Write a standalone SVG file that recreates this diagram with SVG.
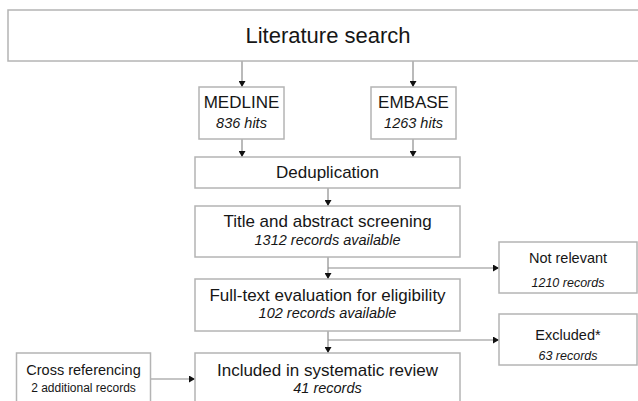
<svg xmlns="http://www.w3.org/2000/svg" width="638" height="401" viewBox="0 0 638 401">
<defs>
<marker id="ah" markerWidth="7" markerHeight="7" refX="6" refY="3.5" orient="auto" markerUnits="userSpaceOnUse">
<path d="M0,0 L6,3.5 L0,7 Z" fill="#111"/>
</marker>
<style>
.box{fill:#fff;stroke:#b4b4b4;stroke-width:1.5}
.t{font-family:"Liberation Sans",Arial,sans-serif;fill:#161616;text-anchor:middle}
.m{font-size:17px}
.s{font-size:14.5px;font-style:italic}
.h{font-size:14.5px}
.xs{font-size:12.5px;font-style:italic}
.c{fill:none;stroke:#8c8c8c;stroke-width:1.2}
</style>
</defs>
<rect width="638" height="401" fill="#fff"/>
<g id="connectors">
<line class="c" x1="242" y1="61" x2="242" y2="87" marker-end="url(#ah)"/>
<line class="c" x1="413" y1="61" x2="413" y2="87" marker-end="url(#ah)"/>
<line class="c" x1="242" y1="139" x2="242" y2="157" marker-end="url(#ah)"/>
<line class="c" x1="413" y1="139" x2="413" y2="157" marker-end="url(#ah)"/>
<line class="c" x1="328" y1="188" x2="328" y2="206" marker-end="url(#ah)"/>
<line class="c" x1="328" y1="257" x2="328" y2="279" marker-end="url(#ah)"/>
<line class="c" x1="328" y1="268" x2="499" y2="268" marker-end="url(#ah)"/>
<line class="c" x1="328" y1="331" x2="328" y2="353" marker-end="url(#ah)"/>
<line class="c" x1="328" y1="340" x2="499" y2="340" marker-end="url(#ah)"/>
<line class="c" x1="150.5" y1="379" x2="195" y2="379" marker-end="url(#ah)"/>
</g>
<g id="literature-search">
<rect class="box" x="8" y="10" width="642" height="51"/>
<text class="t" x="328" y="43" font-size="22">Literature search</text>
</g>
<g id="medline">
<rect class="box" x="199" y="87" width="85" height="52"/>
<text class="t m" x="241.5" y="108">MEDLINE</text>
<text class="t s" x="241.5" y="128">836 hits</text>
</g>
<g id="embase">
<rect class="box" x="371" y="87" width="85" height="52"/>
<text class="t m" x="413.5" y="108">EMBASE</text>
<text class="t s" x="413.5" y="128">1263 hits</text>
</g>
<g id="deduplication">
<rect class="box" x="195" y="157" width="265" height="31"/>
<text class="t m" x="327.5" y="178">Deduplication</text>
</g>
<g id="screening">
<rect class="box" x="195" y="206" width="265" height="51"/>
<text class="t m" x="327.5" y="227">Title and abstract screening</text>
<text class="t s" x="327.5" y="245">1312 records available</text>
</g>
<g id="not-relevant">
<rect class="box" x="499" y="242" width="138" height="51"/>
<text class="t h" x="568" y="263">Not relevant</text>
<text class="t xs" x="568" y="287">1210 records</text>
</g>
<g id="full-text">
<rect class="box" x="195" y="279" width="265" height="52"/>
<text class="t m" x="327.5" y="301">Full-text evaluation for eligibility</text>
<text class="t s" x="327.5" y="318">102 records available</text>
</g>
<g id="excluded">
<rect class="box" x="499" y="314" width="138" height="51"/>
<text class="t h" x="568" y="340">Excluded*</text>
<text class="t xs" x="568" y="360">63 records</text>
</g>
<g id="cross-referencing">
<rect class="box" x="16.5" y="353" width="134" height="60"/>
<text class="t h" x="83.5" y="375">Cross referencing</text>
<text class="t" x="83.5" y="392" font-size="12">2 additional records</text>
</g>
<g id="included">
<rect class="box" x="195" y="353" width="265" height="60"/>
<text class="t m" x="327.5" y="376">Included in systematic review</text>
<text class="t s" x="327.5" y="393">41 records</text>
</g>
</svg>
